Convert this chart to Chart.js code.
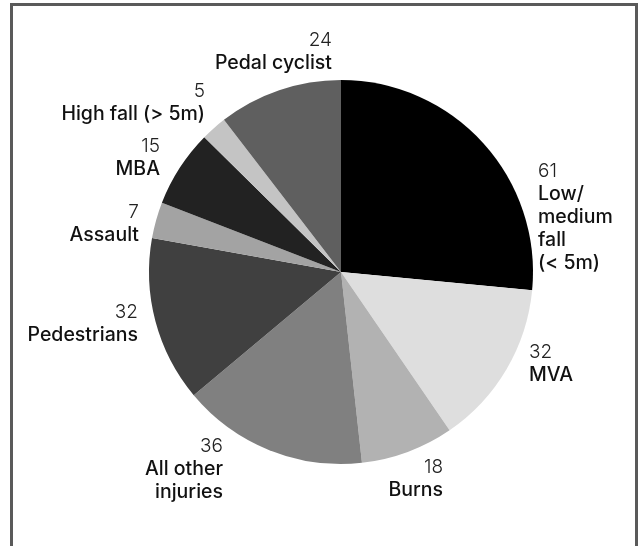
<!DOCTYPE html>
<html>
<head>
<meta charset="utf-8">
<script src="https://cdn.jsdelivr.net/npm/chart.js@4/dist/chart.umd.min.js"></script>
<style>
  html, body { margin: 0; padding: 0; background: #ffffff; }
  #wrap { position: relative; width: 644px; height: 546px; overflow: hidden; }
  #frame { position: absolute; left: 10px; top: 3px; width: 622px; height: 600px;
           border: 3px solid #5a5a5a; box-sizing: content-box; }
  canvas { position: absolute; left: 0; top: 0; }
</style>
</head>
<body>
<div id="wrap">
  <div id="frame"></div>
  <canvas id="c" width="644" height="546"></canvas>
</div>
<script>
// ---- data ----
const categories = ["Low/medium fall (< 5m)", "MVA", "Burns", "All other injuries", "Pedestrians", "Assault", "MBA", "High fall (> 5m)", "Pedal cyclist"];
const labelLines = [["Low/", "medium", "fall", "(< 5m)"], ["MVA"], ["Burns"], ["All other", "injuries"], ["Pedestrians"], ["Assault"], ["MBA"], ["High fall (> 5m)"], ["Pedal cyclist"]];
const values = [61, 32, 18, 36, 32, 7, 15, 5, 24];

// ---- style ----
const colors = ["#000000", "#dedede", "#b2b2b2", "#808080", "#404040", "#a3a3a3", "#222222", "#c4c4c4", "#5f5f5f"];
// label anchor offsets from pie centre (first line baseline), alignment
const labelLayout = [
  { dx: 197, dy: -95, align: "left" },
  { dx: 188, dy: 86, align: "left" },
  { dx: 102, dy: 201, align: "right" },
  { dx: -118, dy: 180, align: "right" },
  { dx: -203, dy: 46, align: "right" },
  { dx: -202, dy: -54, align: "right" },
  { dx: -181, dy: -120, align: "right" },
  { dx: -136, dy: -175, align: "right" },
  { dx: -9, dy: -226, align: "right" }
];
const lineStep = 23;

const labelPlugin = {
  id: "sliceLabels",
  afterDatasetsDraw(chart) {
    const ctx = chart.ctx;
    const meta = chart.getDatasetMeta(0);
    meta.data.forEach((arc, i) => {
      const L = labelLayout[i];
      const x = arc.x + L.dx;
      let y = arc.y + L.dy;
      ctx.save();
      ctx.textAlign = L.align;
      ctx.textBaseline = "alphabetic";
      ctx.fillStyle = "#222222";
      ctx.font = "300 19px Inter, 'Liberation Sans', sans-serif";
      ctx.fillText(String(values[i]), x, y);
      ctx.fillStyle = "#111111";
      ctx.font = "500 19.5px Inter, 'Liberation Sans', sans-serif";
      labelLines[i].forEach((ln) => {
        y += lineStep;
        ctx.fillText(ln, x, y);
      });
      ctx.restore();
    });
  }
};

new Chart(document.getElementById("c"), {
  type: "pie",
  data: {
    labels: categories,
    datasets: [{
      data: values,
      backgroundColor: colors,
      borderWidth: 0
    }]
  },
  options: {
    responsive: false,
    animation: false,
    layout: { padding: { left: 149, right: 111, top: 80, bottom: 82 } },
    plugins: {
      legend: { display: false },
      tooltip: { enabled: false }
    }
  },
  plugins: [labelPlugin]
});
</script>
</body>
</html>
